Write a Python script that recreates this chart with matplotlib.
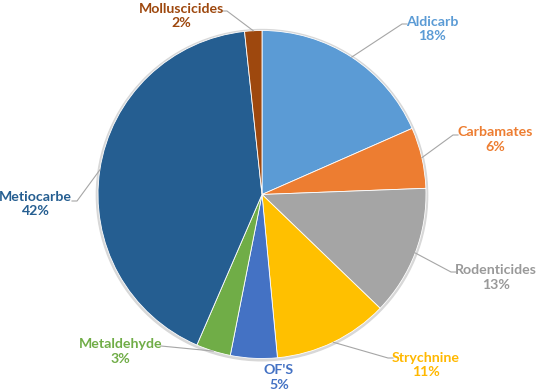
import matplotlib
matplotlib.use("Agg")
import matplotlib.pyplot as plt
import numpy as np

categories = ["Aldicarb", "Carbamates", "Rodenticides", "Strychnine",
              "OF'S", "Metaldehyde", "Metiocarbe", "Molluscicides"]
values = [18.4, 6.0, 12.8, 11.3, 4.6, 3.4, 41.8, 1.7]
colors = ["#5B9BD5", "#ED7D31", "#A5A5A5", "#FFC000",
          "#4472C4", "#70AD47", "#255E91", "#9E480E"]
text_colors = ["#5B9BD5", "#ED7D31", "#999999", "#FFB800",
               "#4472C4", "#70AD47", "#255E91", "#9E480E"]

# layout (pixel positions of labels and leader-line elbows)
W, H = 536, 392
CX, CY, R = 262, 194.5, 164
label_px = [(432, 29), (495, 139.5), (496, 277.5), (426, 365),
            (279, 377.5), (120.5, 351.5), (35.5, 204), (181, 16)]
elbow_px = [[(402, 24), (407, 24)], [(453, 135), (458, 135)],
            [(451, 272), (457, 272)], [(388, 358), (393, 358)],
            None, [(161, 346)], [(77, 201), (72, 201)],
            [(227, 11), (221, 11)]]

def to_data(p):
    return ((p[0] - CX) / R, (CY - p[1]) / R)

fig = plt.figure(figsize=(W / 100, H / 100), dpi=100)
ax = fig.add_axes([0, 0, 1, 1])
ax.axis("off")

# subtle outline/shadow
ax.add_patch(plt.Circle((0.0, -0.004), 1.010, color="#D8D8D8", zorder=0))

wedges, _ = ax.pie(values, colors=colors, startangle=90, counterclock=False,
                   radius=1.0, center=(0, 0),
                   wedgeprops=dict(edgecolor="white", linewidth=0.6))
ax.set_xlim(-CX / R, (W - CX) / R)
ax.set_ylim((CY - H) / R, CY / R)
ax.set_aspect("equal")

for i, w in enumerate(wedges):
    mid = np.deg2rad((w.theta1 + w.theta2) / 2)
    start = (np.cos(mid), np.sin(mid))
    if elbow_px[i] is not None:
        pts = [start] + [to_data(p) for p in elbow_px[i]]
        xs, ys = zip(*pts)
        ax.plot(xs, ys, color="#A6A6A6", lw=0.8, zorder=1)
    lx, ly = to_data(label_px[i])
    ax.text(lx, ly, f"{categories[i]}\n{values[i]:.0f}%", ha="center", va="center",
            color=text_colors[i], fontsize=10.2, fontweight="bold",
            family="Lato", linespacing=1.25)

fig.savefig("out.png", dpi=100)
